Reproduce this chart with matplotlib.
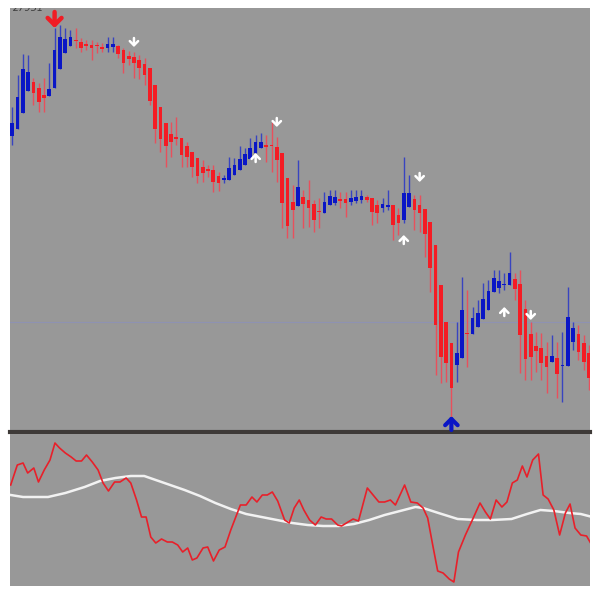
import matplotlib
matplotlib.use("Agg")
import matplotlib.pyplot as plt
import numpy as np

# Heiken-Ashi style candles (price in points)
opens = [304, 311, 327, 349, 358, 352, 345, 344, 352, 371, 387, 394, 399, 398, 396, 395, 394, 393, 392, 393,
         394, 390, 384, 383, 380, 376, 372, 355, 333, 317, 306, 303, 302, 294, 288, 282, 273, 271, 270, 264,
         260, 260, 265, 270, 275, 281, 287, 292, 295, 294, 293, 287, 262, 238, 234, 243, 240, 236, 228, 227,
         235, 237, 241, 241, 238, 239, 240, 243, 242, 235, 232, 233, 235, 225, 220, 233, 241, 235, 231, 218,
         195, 155, 118, 97, 75, 82, 106, 106, 113, 121, 130, 148, 152, 155, 155, 161, 156, 131, 106, 94,
         92, 84, 78, 82, 74, 74, 98, 106, 97, 87]
highs = [333, 365, 386, 385, 362, 357, 362, 377, 412, 415, 412, 410, 412, 402, 400, 400, 398, 397, 403, 403,
         395, 392, 389, 388, 385, 382, 372, 355, 333, 317, 318, 323, 302, 298, 288, 282, 280, 275, 275, 268,
         265, 283, 282, 294, 292, 302, 305, 307, 305, 318, 303, 287, 262, 255, 280, 250, 260, 240, 242, 248,
         250, 250, 248, 248, 250, 250, 250, 245, 242, 240, 242, 250, 235, 232, 283, 265, 245, 245, 231, 218,
         195, 155, 118, 97, 118, 163, 150, 133, 140, 157, 160, 170, 170, 167, 188, 167, 170, 140, 118, 108,
         107, 98, 105, 98, 108, 153, 118, 115, 105, 95]
lows = [295, 311, 327, 349, 335, 328, 328, 344, 352, 371, 387, 394, 392, 388, 390, 380, 387, 388, 388, 388,
        382, 367, 375, 362, 361, 355, 335, 297, 288, 273, 283, 295, 273, 273, 263, 257, 258, 263, 248, 249,
        257, 260, 265, 270, 275, 281, 287, 292, 278, 268, 258, 212, 202, 202, 234, 212, 213, 208, 212, 227,
        235, 235, 232, 223, 235, 237, 237, 238, 215, 217, 228, 230, 200, 205, 217, 233, 210, 208, 183, 148,
        65, 57, 58, 23, 58, 82, 73, 106, 113, 121, 130, 148, 147, 150, 155, 140, 67, 60, 60, 68,
        60, 47, 78, 42, 38, 74, 90, 80, 70, 50]
closes = [317, 343, 371, 368, 347, 338, 342, 351, 390, 403, 401, 403, 398, 392, 394, 392, 393, 391, 396, 396,
          386, 377, 381, 377, 372, 365, 339, 311, 301, 294, 298, 301, 285, 283, 273, 264, 267, 269, 258, 257,
          262, 272, 275, 281, 286, 292, 298, 298, 293, 293, 280, 237, 214, 230, 253, 236, 232, 220, 227, 238,
          244, 243, 239, 237, 242, 243, 244, 240, 228, 227, 236, 235, 215, 217, 247, 247, 230, 227, 206, 172,
          115, 83, 77, 52, 87, 130, 105, 122, 127, 141, 149, 162, 159, 156, 167, 151, 105, 81, 83, 89,
          77, 73, 84, 66, 75, 123, 112, 88, 78, 62]

level_line = 118

# signal arrows: bar index and price of the arrow tip
big_sell_bar, big_sell_price = 8, 412
big_buy_bar, big_buy_price = 83, 24
sell_bars = [23, 50, 77, 98]
sell_prices = [393, 313, 258, 120]
buy_bars = [46, 74, 93]
buy_prices = [287, 205, 133]

# oscillator (fast red line and slow white line)
osc_pos = [-0.3, 0.95, 2.04, 2.91, 4.07, 4.95, 6.04, 7.13, 8.07, 8.94, 10.03, 11.13, 12.07, 13.09, 14.03,
           15.12, 16.22, 17.16, 18.18, 19.34, 20.36, 21.52, 22.4, 23.49, 24.43, 25.3, 26.18, 27.12, 28.21,
           29.3, 30.25, 31.27, 32.21, 33.16, 34.03, 34.9, 36.06, 36.94, 38.03, 39.12, 40.21, 41.3, 43.12,
           44.21, 45.3, 46.24, 47.26, 48.2, 49.15, 50.17, 51.48, 52.35, 53.29, 54.24, 55.11, 56.2, 57.29,
           58.38, 59.33, 60.35, 61.51, 62.24, 63.47, 64.42, 65.44, 67.11, 68.2, 69.29, 70.38, 71.47, 72.42,
           73.29, 74.16, 75.33, 76.56, 77.65, 78.52, 79.47, 80.41, 81.43, 82.59, 83.47, 84.34, 85.65, 86.96,
           88.41, 89.43, 90.37, 91.46, 92.55, 93.5, 94.52, 95.46, 96.41, 97.28, 98.37, 99.46, 100.34,
           101.28, 102.37, 103.46, 104.55, 105.43, 106.37, 107.46, 108.55, 109.64]
osc_fast = [101, 121, 123, 113, 118, 104, 116, 126, 143, 138, 133, 129, 125, 125, 131, 124, 116, 103, 95,
            104, 104, 108, 103, 86, 69, 69, 49, 43, 47, 44, 44, 41, 34, 38, 26, 28, 38, 39, 25, 36, 39, 56,
            81, 81, 89, 84, 91, 91, 94, 85, 66, 63, 78, 86, 76, 66, 61, 69, 67, 67, 61, 60, 64, 67, 65, 98,
            91, 84, 84, 86, 81, 91, 101, 84, 83, 78, 68, 41, 15, 13, 7, 4, 34, 51, 66, 83, 74, 67, 86, 79,
            84, 103, 106, 120, 109, 126, 132, 91, 87, 76, 51, 73, 82, 58, 51, 50, 40]
slow_pos = [-0.3, 2.04, 6.76, 10.03, 13.67, 16.58, 19.49, 22.4, 24.94, 28.21, 32.57, 35.48, 38.39, 41.3,
            44.21, 47.12, 50.02, 52.93, 55.84, 58.75, 61.66, 64.57, 67.47, 70.38, 73.29, 76.2, 77.65, 80.56,
            84.19, 87.83, 90.74, 94.37, 97.28, 99.83, 102.37, 105.28, 107.46, 109.64]
osc_slow = [91, 89, 89, 93, 99, 105, 108, 110, 110, 104, 96, 90, 83, 77, 72, 69, 66, 63, 61, 60, 60, 62,
            66, 71, 75, 79, 78, 73, 67, 66, 66, 67, 72, 76, 75, 73, 72, 69]

bg = '#989898'
up_col, down_col = '#0a16c6', '#f41c24'
up_wick, down_wick = '#3844c0', '#e8505c'

fig = plt.figure(figsize=(6, 5.94), dpi=100)
ax = fig.add_axes([10/600, 162/594, 580/600, 424/594])
ax2 = fig.add_axes([10/600, 8/594, 580/600, 152/594])

bars = np.arange(len(opens))
o = np.array(opens); c = np.array(closes)
bull = c >= o
ax.axhline(level_line, color='#8e92b2', lw=0.8, zorder=1)
ax.vlines(bars[bull], np.array(lows)[bull], np.array(highs)[bull], color=up_wick, lw=1, zorder=2)
ax.vlines(bars[~bull], np.array(lows)[~bull], np.array(highs)[~bull], color=down_wick, lw=1, zorder=2)
body = np.where(np.abs(c - o) < 1.5, 1.5, c - o)
ax.bar(bars, body, bottom=o, width=0.7, color=np.where(bull, up_col, down_col), zorder=3)


def arrow(x, tip, tail, color, lw, head):
    ax.annotate('', xy=(x, tip), xytext=(x, tail), zorder=5,
                arrowprops=dict(arrowstyle=f'->,head_width={head},head_length={head}',
                                lw=lw, color=color, shrinkA=0, shrinkB=0))


arrow(big_sell_bar, big_sell_price, big_sell_price + 16, '#f01c24', 3.2, 0.5)
arrow(big_buy_bar, big_buy_price, big_buy_price - 14, '#0a16c6', 3.0, 0.45)
for b, p in zip(sell_bars, sell_prices):
    arrow(b, p, p + 9, 'white', 1.8, 0.3)
for b, p in zip(buy_bars, buy_prices):
    arrow(b, p, p - 9, 'white', 1.8, 0.3)

ax.text(0.005, 1.0, '27951', transform=ax.transAxes, fontsize=7, style='italic',
        color='#404040', va='center', ha='left', clip_on=True)

ax2.plot(slow_pos, osc_slow, color='#f2f2f2', lw=1.8)
ax2.plot(osc_pos, osc_fast, color='#e8202a', lw=1.2)

for a in (ax, ax2):
    a.set_facecolor(bg)
    a.set_xlim(-0.43, 109.2)
    a.set_xticks([]); a.set_yticks([])
    for s in a.spines.values():
        s.set_visible(False)
ax.set_ylim(8, 432)
ax2.set_ylim(0, 152)
ax.spines['bottom'].set_visible(True)
ax.spines['bottom'].set_color('#3e3a38')
ax.spines['bottom'].set_linewidth(3)

fig.savefig('out.png', dpi=100, facecolor='white')
